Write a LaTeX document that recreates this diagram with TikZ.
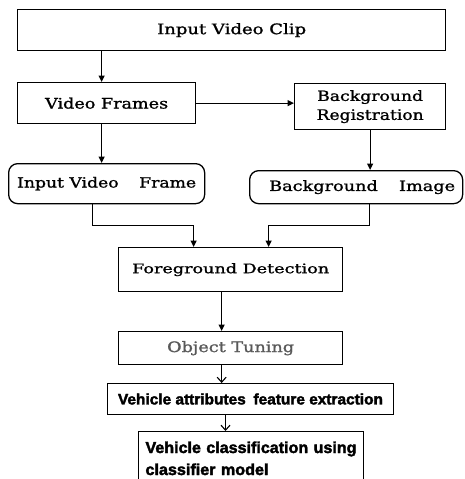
\documentclass[tikz,border=0pt]{standalone}
\usepackage{fontspec}
\setmainfont{DejaVu Serif}[BoldFont=DejaVu Serif, BoldFeatures={FakeBold=1.1}]
\newfontfamily\boldsans{Liberation Sans}[BoldFeatures={FakeBold=2.2}]
\usetikzlibrary{arrows.meta}
% scale a text to a given width and height (in pt)
\newcommand\fitw[3]{\resizebox{#1pt}{#2pt}{#3}}

\begin{document}
\begin{tikzpicture}[x=1pt,y=-1pt,
  box/.style={draw, line width=1.3pt, inner sep=0pt, anchor=north west, font=\bfseries},
  rbox/.style={box, rounded corners=9pt},
  arr/.style={line width=1.3pt, -{Triangle[length=6.5pt,width=6pt]}},
  varr/.style={line width=1.1pt, -{Straight Barb[length=5pt,width=9pt]}},
]
\useasboundingbox[fill=white] (0,0) rectangle (464,479);

% process boxes
\node[box, minimum width=428pt, minimum height=41pt] (clip) at (17,9)
  {\fitw{149}{11}{Input Video Clip}};
\node[box, minimum width=178pt, minimum height=41pt] (vf) at (17,82)
  {\fitw{123}{11}{Video Frames}};
\node[box, minimum width=151pt, minimum height=46pt, align=center,
      font=\bfseries\fontsize{10}{19}\selectfont] (br) at (294,83)
  {\fitw{106}{10.6}{Background}\\\fitw{107}{10.6}{Registration}};
\node[rbox, minimum width=196pt, minimum height=40pt] (ivf) at (8,163)
  {\fitw{179}{10.7}{Input Video\hspace{1.2em}Frame}};
\node[rbox, minimum width=213pt, minimum height=33pt] (bi) at (249,170)
  {\hspace{12pt}\fitw{186}{10.7}{Background\hspace{1.2em}Image}};
\node[box, minimum width=224pt, minimum height=44pt] (fd) at (118,247)
  {\fitw{197}{10}{Foreground Detection}};
\node[box, minimum width=224pt, minimum height=33pt] (ot) at (118,331)
  {\textcolor{black!65}{\fitw{127}{11}{Object Tuning}}};
\node[box, line width=1pt, minimum width=286pt, minimum height=31pt,
      font=\boldsans\bfseries] (va) at (107,383)
  {\fitw{265}{11}{Vehicle attributes\hspace{0.5em}feature extraction}};
\node[box, line width=1pt, text width=211pt, inner xsep=7pt, inner ysep=10pt,
      align=left, font=\boldsans\bfseries\fontsize{11}{22}\selectfont] (vc) at (138,431)
  {\fitw{211}{11.5}{Vehicle classification using}\\\fitw{123}{11.5}{classifier model}};

% connectors
\draw[arr] ([xshift=-130pt]clip.south) -- ([xshift=-130pt]clip.south |- vf.north);
\draw[arr] (vf.east) -- (vf.east -| br.west);
\draw[arr] ([xshift=-5pt]vf.south) -- ([xshift=-5pt]vf.south |- ivf.north);
\draw[arr] (br.south) -- (br.south |- bi.north);
\draw[arr] ([xshift=-14pt]ivf.south) -- ++(0,21) -| ([xshift=-37pt]fd.north);
\draw[arr] ([xshift=13.5pt]bi.south) -- ++(0,21) -| ([xshift=38pt]fd.north);
\draw[arr] ([xshift=-9pt]fd.south) -- ([xshift=-9pt]fd.south |- ot.north);
\draw[varr] ([xshift=-9pt]ot.south) -- ([xshift=-9pt]ot.south |- va.north);
\draw[varr] ([xshift=-25pt]va.south) -- ([xshift=-25pt]va.south |- vc.north);
\end{tikzpicture}
\end{document}
